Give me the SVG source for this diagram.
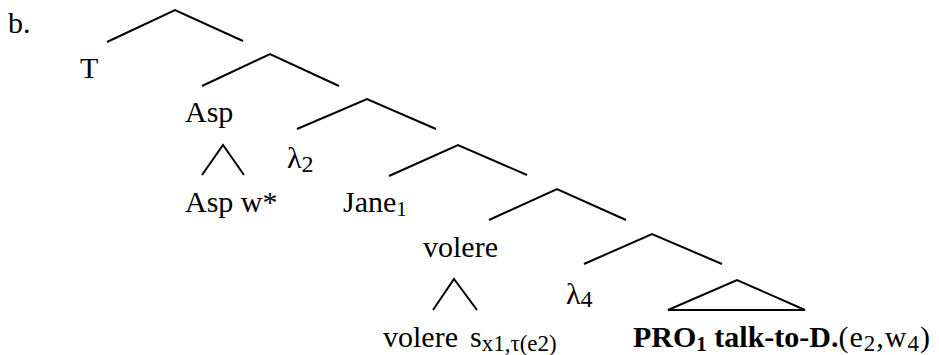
<svg xmlns="http://www.w3.org/2000/svg" width="939" height="355" viewBox="0 0 939 355">
<style>
  .t { font-family: "Liberation Serif", "Times New Roman", serif; font-size: 30px; fill: #000; }
  .b { font-weight: bold; }
  .sub { font-size: 21px; }
  .edge { fill: none; stroke: #000; stroke-width: 2; stroke-linejoin: miter; }
</style>
<rect width="939" height="355" fill="#fff"/>
<text id="label-b" class="t" x="8" y="33">b.</text>
<g id="edges">
  <polyline class="edge" points="107,42 175,10 243,41"/>
  <polyline class="edge" points="202,86 270,54 339,86"/>
  <polyline class="edge" points="297,129 367,99 436,129"/>
  <polyline class="edge" points="389,176 458,145 527,175"/>
  <polyline class="edge" points="489,220 557,189 626,220"/>
  <polyline class="edge" points="584,264 652,234 722,264"/>
  <polyline class="edge" points="202,175 223,145 244,175"/>
  <polyline class="edge" points="433,310 454,279 477,310"/>
  <polygon class="edge" points="668,310 737,280 805,310"/>
</g>
<g id="node-T"><text class="t" x="80" y="78">T</text></g>
<g id="node-Asp"><text class="t" x="185" y="122">Asp</text></g>
<g id="node-lambda2"><text class="t" x="287" y="168" font-size="32">λ<tspan font-size="24" dy="4">2</tspan></text></g>
<g id="node-Aspw"><text class="t" x="185" y="212">Asp w*</text></g>
<g id="node-Jane"><text class="t" x="343" y="212">Jane<tspan class="sub" dy="4">1</tspan></text></g>
<g id="node-volere-top"><text class="t" x="423" y="257">volere</text></g>
<g id="node-lambda4"><text class="t" x="566" y="304" font-size="32">λ<tspan font-size="24" dy="3">4</tspan></text></g>
<g id="node-volere"><text class="t" x="383" y="347">volere</text></g>
<g id="node-s"><text class="t" x="470" y="347">s<tspan font-size="23" dy="4">x1,τ(e2)</tspan></text></g>
<g id="node-PRO"><text class="t" x="633" y="347"><tspan class="b">PRO</tspan><tspan class="b sub" dy="4">1</tspan><tspan class="b" dy="-4"> talk-to-D.</tspan><tspan letter-spacing="1">(e</tspan><tspan font-size="23" dy="4" letter-spacing="1">2</tspan><tspan dy="-4" letter-spacing="1">,w</tspan><tspan font-size="23" dy="4" letter-spacing="1">4</tspan><tspan dy="-4">)</tspan></text></g>
</svg>
